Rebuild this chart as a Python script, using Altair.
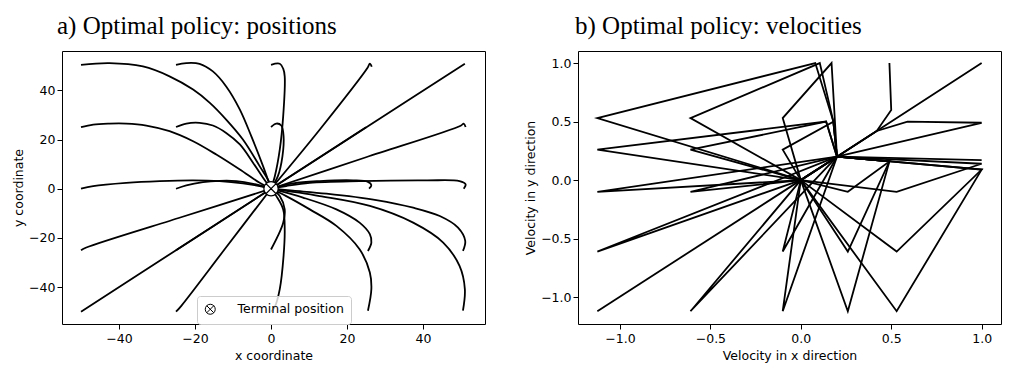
import altair as alt
import pandas as pd

# ---------------- panel a) positions: trajectories (x, y) ----------------
traj_m50_p50 = [(-50, 50.4), (-42.5, 51.1), (-33.7, 49.7), (-26.7, 45.7), (-20.5, 40.3), (-16.1, 34.9),
                (-11.8, 28.1), (-7.4, 20.0), (-3.0, 9.2), (-0.4, 2.4), (0, 0)]
traj_m25_p50 = [(-25, 50.4), (-22.3, 51.1), (-18.8, 50.8), (-15.3, 47.7), (-11.8, 41.6), (-8.2, 32.2),
                (-5.2, 21.4), (-2.1, 9.2), (0, 0)]
traj_0_p50 = [(0, 50.4), (2.3, 50.8), (3.2, 48.8), (3.6, 45.7), (3.2, 29.5), (2.3, 15.9), (1.0, 5.1), (0, 0)]
traj_p25_p50 = [(26.5, 49.6), (26.0, 50.9), (25.4, 49.2), (13.0, 24.4), (0, 0)]
traj_p50_p50 = [(51.0, 50.8), (25.5, 25.4), (0, 0)]

traj_m50_p25 = [(-50, 25.0), (-46.8, 26.1), (-42.5, 26.5), (-38.1, 26.5), (-32.8, 25.7), (-26.7, 23.4),
                (-20.5, 19.3), (-14.4, 13.9), (-8.2, 7.8), (-3.0, 2.4), (0, 0)]
traj_m25_p25 = [(-25, 25.1), (-22.3, 26.5), (-18.8, 26.8), (-15.3, 25.7), (-11.8, 22.7), (-8.2, 18.0),
                (-4.7, 10.5), (-2.1, 4.5), (0, 0)]
traj_0_p25 = [(0, 25.1), (1.4, 26.5), (2.7, 25.7), (3.3, 21.4), (3.0, 13.2), (1.8, 5.1), (0, 0)]
traj_p25_p25 = [(25.0, 25.0), (0, 0)]
traj_p50_p25 = [(51.2, 25.1), (50.7, 26.5), (49.9, 25.6), (25.0, 12.8), (0, 0)]

traj_m50_0 = [(-50, 0), (-46.8, 1.1), (-38.1, 2.4), (-29.3, 3.1), (-20.5, 3.4), (-13.5, 3.1),
              (-7.4, 2.2), (-3.0, 1.1), (0, 0)]
traj_m25_0 = [(-25, 0), (-22.3, 1.4), (-17.9, 2.7), (-13.5, 3.2), (-9.1, 3.1), (-4.7, 2.0), (0, 0)]
traj_p25_0 = [(25.8, 0), (26.4, 1.5), (25.5, 2.8), (21.6, 3.4), (12.8, 3.1), (5.8, 2.2), (0, 0)]
traj_p50_0 = [(50.7, 0), (51.2, 1.8), (49.6, 3.1), (40.9, 3.4), (23.3, 3.1), (10.2, 2.4), (4.0, 1.1), (0, 0)]

traj_m50_m25 = [(-50, -25.0), (-48.6, -23.9), (-24.3, -11.9), (0, 0)]
traj_m25_m25 = [(-25.0, -25.0), (0, 0)]
traj_0_m25 = [(0, -24.7), (1.8, -19.2), (3.2, -13.8), (3.6, -8.4), (2.3, -3.0), (0.5, -0.3), (0, 0)]
traj_p25_m25 = [(25.5, -25.3), (26.4, -21.9), (26.0, -18.5), (23.3, -13.8), (17.2, -8.4), (8.4, -3.6), (0, 0)]
traj_p50_m25 = [(50.5, -25.3), (51.1, -21.2), (49.2, -15.8), (44.4, -11.1), (37.4, -7.7), (27.7, -4.6),
                (14.6, -2.0), (5.8, -0.8), (0, 0)]

traj_m50_m50 = [(-50, -50), (-25, -25), (0, 0)]
traj_m25_m50 = [(-25, -50), (-23.6, -47.6), (-11.8, -23.8), (0, 0)]
traj_0_m50 = [(0, -50), (1.0, -48.0), (2.3, -40.8), (3.3, -27.3), (3.6, -16.5), (3.2, -8.4), (1.4, -3.0), (0, 0)]
traj_p25_m50 = [(25.5, -49.6), (26.4, -40.8), (26.0, -34.1), (23.3, -24.6), (17.2, -15.1), (10.2, -8.4),
                (4.0, -3.0), (0, 0)]
traj_p50_m50 = [(50.5, -49.6), (51.0, -40.8), (49.6, -31.4), (45.3, -21.9), (37.4, -13.8), (26.0, -7.0),
                (12.8, -3.0), (0, 0)]

position_trajectories = [
    traj_m50_p50, traj_m25_p50, traj_0_p50, traj_p25_p50, traj_p50_p50,
    traj_m50_p25, traj_m25_p25, traj_0_p25, traj_p25_p25, traj_p50_p25,
    traj_m50_0, traj_m25_0, traj_p25_0, traj_p50_0,
    traj_m50_m25, traj_m25_m25, traj_0_m25, traj_p25_m25, traj_p50_m25,
    traj_m50_m50, traj_m25_m50, traj_0_m50, traj_p25_m50, traj_p50_m50,
]

terminal_x = [0.0]
terminal_y = [0.0]
terminal_label = ["Terminal position"]

# ---------------- panel b) velocities: knots and paths ----------------
knot_names = ["O", "A1", "A2", "A3", "A4", "A5", "B1", "B2", "B3", "B5", "C1", "C2", "C4", "C5",
              "D3", "D4", "D5", "E3", "E4", "E5", "F1", "F2", "F3", "F3b", "F3c",
              "T1", "T2", "T4", "T5", "M1", "M2", "M3", "M4", "M5", "J", "M6"]
knot_vx = [0.0, -1.125, -1.125, -1.125, -1.125, -1.125, -0.61, -0.61, -0.61, -0.61, -0.10, -0.10, -0.10, -0.10,
           0.26, 0.26, 0.26, 0.53, 0.53, 0.53, 1.0, 1.0, 1.0, 1.0, 1.0,
           0.08, 0.105, 0.17, 0.49, 0.20, 0.18, 0.14, 0.50, 0.59, 0.42, 0.49]
knot_vy = [0.0, 0.53, 0.26, -0.10, -0.61, -1.12, 0.53, 0.26, -0.10, -1.12, 0.53, 0.26, -0.61, -1.12,
           -0.10, -0.61, -1.12, -0.10, -0.61, -1.12, 1.0, 0.49, 0.17, 0.14, 0.09,
           1.0, 1.0, 1.0, 1.0, 0.20, 0.50, 0.50, 0.60, 0.50, 0.42, 0.16]

velocity_paths = [
    ["O", "A1", "T1", "M2", "M1"],
    ["O", "B1", "T2", "M2", "M1"],
    ["O", "C1", "T4", "M1"],
    ["O", "A2", "M3", "M1"],
    ["O", "B2", "M3", "M1"],
    ["O", "C2", "M2", "M1"],
    ["O", "A3", "M1"],
    ["O", "B3", "M1"],
    ["O", "A4", "M1"],
    ["O", "A5"],
    ["O", "B5", "M1"],
    ["O", "C4", "M1"],
    ["O", "C5", "M1"],
    ["O", "D3", "M6", "M1"],
    ["O", "D4", "M6", "M1"],
    ["O", "D5", "M6", "M1"],
    ["O", "E3", "F3b", "M1"],
    ["O", "E4", "F3c", "M1"],
    ["O", "E5", "F3c", "M1"],
    ["O", "M1", "F1"],
    ["O", "M1", "J", "M5", "F2", "M1"],
    ["O", "M1", "J", "M4", "T5"],
    ["O", "M1", "F3"],
]

# ---------------- build tables ----------------
pos_rows = []
for t, traj in enumerate(position_trajectories):
    for i, (px, py) in enumerate(traj):
        pos_rows.append({"traj": t, "i": i, "x": px, "y": py})
df_pos = pd.DataFrame(pos_rows)

df_term = pd.DataFrame({"x": terminal_x, "y": terminal_y, "label": terminal_label})

knots = {n: (vx, vy) for n, vx, vy in zip(knot_names, knot_vx, knot_vy)}
vel_rows = []
for p, path in enumerate(velocity_paths):
    for i, name in enumerate(path):
        vx, vy = knots[name]
        vel_rows.append({"path": p, "i": i, "vx": vx, "vy": vy})
df_vel = pd.DataFrame(vel_rows)

OTIMES = ("M-1,0A1,1,0,1,1,1,0A1,1,0,1,1,-1,0Z"
          "M-0.7071,-0.7071L0.7071,0.7071M-0.7071,0.7071L0.7071,-0.7071")

W, H = 423, 273
TITLE_FONT = "Liberation Serif"

xs_a = alt.Scale(domain=[-55.0, 56.3], nice=False, zero=False)
ys_a = alt.Scale(domain=[-55.0, 56.0], nice=False, zero=False)

lines_a = alt.Chart(df_pos).mark_line(
    color="black", strokeWidth=1.8, interpolate="catmull-rom"
).encode(
    x=alt.X("x:Q", scale=xs_a, title="x coordinate",
            axis=alt.Axis(values=[-40, -20, 0, 20, 40], format="d")),
    y=alt.Y("y:Q", scale=ys_a, title="y coordinate",
            axis=alt.Axis(values=[-40, -20, 0, 20, 40], format="d")),
    detail="traj:N",
    order="i:Q",
)

marker_bg = alt.Chart(df_term).mark_point(
    shape="circle", filled=True, color="white", size=205, opacity=1
).encode(
    x=alt.X("x:Q", scale=xs_a),
    y=alt.Y("y:Q", scale=ys_a),
)

marker_a = alt.Chart(df_term).mark_point(
    filled=False, color="black", strokeWidth=1.2, size=205, opacity=1
).encode(
    x=alt.X("x:Q", scale=xs_a),
    y=alt.Y("y:Q", scale=ys_a),
    shape=alt.Shape("label:N", scale=alt.Scale(domain=terminal_label, range=[OTIMES]),
                    legend=alt.Legend(title=None, orient="none", legendX=135, legendY=245,
                                      fillColor="rgba(255,255,255,0.8)", strokeColor="#cccccc",
                                      cornerRadius=3, padding=7, symbolSize=100,
                                      symbolStrokeColor="black", symbolStrokeWidth=1,
                                      labelFontSize=12.5, labelOffset=21,
                                      labelFont="DejaVu Sans", labelColor="black")),
)

panel_a = alt.layer(lines_a, marker_bg, marker_a).properties(
    width=W, height=H,
    title=alt.TitleParams("a) Optimal policy: positions", anchor="start", frame="group", dx=-5),
)

xs_b = alt.Scale(domain=[-1.232, 1.107], nice=False, zero=False)
ys_b = alt.Scale(domain=[-1.229, 1.103], nice=False, zero=False)

panel_b = alt.Chart(df_vel).mark_line(color="black", strokeWidth=1.8).encode(
    x=alt.X("vx:Q", scale=xs_b, title="Velocity in x direction",
            axis=alt.Axis(values=[-1.0, -0.5, 0.0, 0.5, 1.0], format=".1f")),
    y=alt.Y("vy:Q", scale=ys_b, title="Velocity in y direction",
            axis=alt.Axis(values=[-1.0, -0.5, 0.0, 0.5, 1.0], format=".1f")),
    detail="path:N",
    order="i:Q",
).properties(
    width=W, height=H,
    title=alt.TitleParams("b) Optimal policy: velocities", anchor="start", frame="group", dx=-3),
)

chart = alt.hconcat(panel_a, panel_b, spacing=38).configure(
    padding={"left": 4, "top": 5, "right": 5, "bottom": 5},
    font="DejaVu Sans",
).configure_view(
    stroke="black", strokeWidth=1
).configure_axis(
    grid=False, domain=False,
    labelFont="DejaVu Sans", labelFontSize=12.5, labelColor="black", labelPadding=2,
    tickColor="black", tickSize=5, tickWidth=1,
    titleFont="DejaVu Sans", titleFontSize=12.5, titleFontWeight="normal", titleColor="black",
    titlePadding=3,
).configure_axisX(
    labelPadding=3, titlePadding=5,
).configure_title(
    font=TITLE_FONT, fontSize=25, fontWeight="normal", color="black", offset=12,
).configure_legend(
    labelFont="DejaVu Sans",
)

chart.save("out.html", embed_options={"renderer": "svg", "actions": False})
